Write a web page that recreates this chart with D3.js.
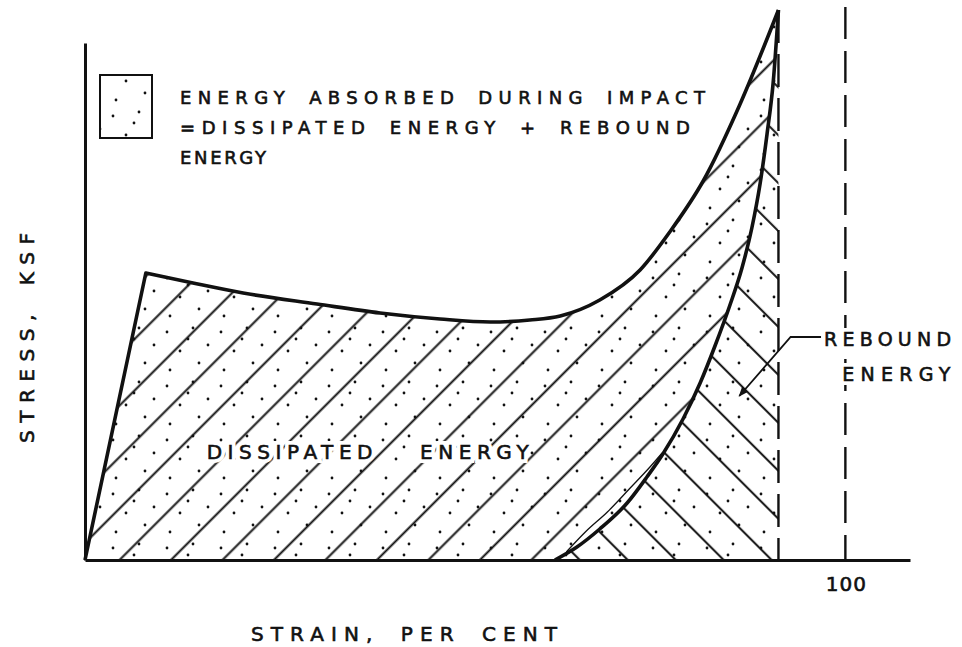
<!DOCTYPE html>
<html lang="en">
<head>
<meta charset="UTF-8" />
<title>Stress - strain energy</title>
<script src="https://d3js.org/d3.v7.min.js"></script>
<style>
  body { margin: 0; background: #fff; }
  text { font-family: "DejaVu Sans", sans-serif; fill: #111; }
  .ink { stroke: #111; stroke-width: 0.6; }
</style>
</head>
<body>
<div id="graph-space"></div>
<script>
  // loading branch (strain %, stress)
  const loadStrain = [0, 8.0, 14.2, 20.8, 30.5, 38.8, 46.7, 53.3, 58.5, 62.5, 67.7, 73.0, 76.9, 81.3, 86.1, 91.2]
  const loadStress = [0, 57.4, 55.4, 53.4, 51.2, 49.4, 48.2, 47.6, 48, 48.8, 52, 58, 65.6, 75.8, 91, 110]
  // unloading (rebound) branch
  const unloadStrain = [61.8, 64.7, 67.7, 71.3, 73.9, 76.0, 78.65, 80.9, 82.85, 84.8, 86.4, 87.7, 88.8, 89.7, 90.5, 91.2]
  const unloadStress = [0, 2.6, 6.2, 11.4, 16.6, 21.2, 28.2, 35.4, 42.8, 50.9, 58.4, 66.4, 75.4, 85.2, 95.4, 110]
  // faint second trace just above the unloading foot
  const traceStrain = [63.3, 65.8, 68.7, 71.7, 74.3, 75.9]
  const traceStress = [1.6, 5.6, 9.6, 14.4, 18.6, 21.4]
  const xTicks = [100]
  const legendLines = ["ENERGY ABSORBED DURING IMPACT", "=DISSIPATED ENERGY + REBOUND", "ENERGY"]

  const width = 962
  const height = 647
  const svg = d3.select("#graph-space").append("svg")
    .attr("width", width).attr("height", height)

  const x = d3.scaleLinear().domain([0, 108.5]).range([85, 910])
  const y = d3.scaleLinear().domain([0, 103.4]).range([560, 43])
  const ink = "#111"

  const peakStrain = loadStrain[loadStrain.length - 1]
  const peakStress = loadStress[loadStress.length - 1]

  const loadPts = loadStrain.map((d, i) => [d, loadStress[i]])
  const unloadPts = unloadStrain.map((d, i) => [d, unloadStress[i]])
  const tracePts = traceStrain.map((d, i) => [d, traceStress[i]])

  const curve = d3.line().x(d => x(d[0])).y(d => y(d[1])).curve(d3.curveMonotoneX)
  // straight rise to the yield corner, then smooth
  const loadPath = `M${x(loadPts[0][0])},${y(loadPts[0][1])}` + curve(loadPts.slice(1)).replace(/^M/, "L")
  const unloadPath = curve(unloadPts)
  const underLoad = loadPath + `L${x(peakStrain)},${y(0)}Z`
  const underUnload = unloadPath + `L${x(peakStrain)},${y(0)}Z`

  const defs = svg.append("defs")

  // stipple
  const dotPos = [[5, 8], [31, 4], [46, 21], [18, 27], [37, 39], [8, 46], [26, 15]]
  const dots = defs.append("pattern").attr("id", "dots")
    .attr("patternUnits", "userSpaceOnUse").attr("width", 54).attr("height", 54)
  dots.selectAll("circle").data(dotPos).join("circle")
    .attr("cx", d => d[0]).attr("cy", d => d[1]).attr("r", 1.4).attr("fill", ink)

  function hatch(id, angle, w, off) {
    const p = defs.append("pattern").attr("id", id)
      .attr("patternUnits", "userSpaceOnUse").attr("width", w).attr("height", 10)
      .attr("patternTransform", `rotate(${angle})`)
    p.append("line").attr("x1", off).attr("x2", off).attr("y1", -1).attr("y2", 11)
      .attr("stroke", ink).attr("stroke-width", 2)
  }
  hatch("fwd", 45, 36.4, 7.3)
  hatch("back", -45, 33.9, 14.1)

  defs.append("clipPath").attr("id", "clip-diss")
    .append("path").attr("d", underLoad + underUnload).attr("clip-rule", "evenodd")
  defs.append("clipPath").attr("id", "clip-reb")
    .append("path").attr("d", underUnload)

  defs.append("marker").attr("id", "arrow")
    .attr("viewBox", "0 0 10 8").attr("refX", 9).attr("refY", 4)
    .attr("markerWidth", 11).attr("markerHeight", 8).attr("markerUnits", "userSpaceOnUse")
    .attr("orient", "auto")
    .append("path").attr("d", "M0,0L10,4L0,8Z").attr("fill", ink)

  // fills
  svg.append("path").attr("d", underLoad).attr("fill", "url(#dots)")
  svg.append("rect").attr("x", 0).attr("y", 0).attr("width", width).attr("height", height)
    .attr("fill", "url(#fwd)").attr("clip-path", "url(#clip-diss)")
  svg.append("rect").attr("x", 0).attr("y", 0).attr("width", width).attr("height", height)
    .attr("fill", "url(#back)").attr("clip-path", "url(#clip-reb)")

  // text with a white halo under it so the hatching breaks around it
  function haloText(g, attrs, str) {
    [true, false].forEach(halo => {
      const t = g.append("text").text(str)
      Object.entries(attrs).forEach(([k, v]) => t.attr(k, v))
      if (halo) t.attr("stroke", "#fff").attr("stroke-width", 8).attr("fill", "#fff")
      else t.attr("class", "ink")
    })
  }

  haloText(svg, { x: x(16), y: y(20.2), "font-size": 20, "word-spacing": 30,
    textLength: 322, lengthAdjust: "spacing" }, "DISSIPATED ENERGY")

  // curves
  svg.append("path").attr("d", loadPath).attr("fill", "none")
    .attr("stroke", ink).attr("stroke-width", 3.6).attr("stroke-linejoin", "round")
  svg.append("path").attr("d", unloadPath).attr("fill", "none")
    .attr("stroke", ink).attr("stroke-width", 3.6)
  svg.append("path").attr("d", curve(tracePts))
    .attr("fill", "none").attr("stroke", ink).attr("stroke-width", 1.3)

  // dashed verticals
  svg.append("line")
    .attr("x1", x(peakStrain)).attr("x2", x(peakStrain))
    .attr("y1", y(peakStress)).attr("y2", y(0))
    .attr("stroke", ink).attr("stroke-width", 2.4).attr("stroke-dasharray", "33,11")
  svg.append("line")
    .attr("x1", x(100)).attr("x2", x(100))
    .attr("y1", y(110.6)).attr("y2", y(0))
    .attr("stroke", ink).attr("stroke-width", 2.4).attr("stroke-dasharray", "32,12")

  // axes
  const xAxis = svg.append("g").attr("transform", `translate(0,${y(0)})`)
    .call(d3.axisBottom(x).tickValues(xTicks).tickSize(0).tickSizeOuter(0).tickPadding(17).tickFormat(d3.format("d")))
  xAxis.select(".domain").attr("stroke", ink).attr("stroke-width", 3)
  xAxis.selectAll("text").attr("font-size", 20).attr("fill", ink).attr("class", "ink")
    .attr("textLength", 40).attr("lengthAdjust", "spacing")
    .style("font-family", "'DejaVu Sans', sans-serif")

  const yAxis = svg.append("g").attr("transform", `translate(${x(0)},0)`)
    .call(d3.axisLeft(y).tickValues([]).tickSizeOuter(0))
  yAxis.select(".domain").attr("stroke", ink).attr("stroke-width", 3)

  // rebound label and leader
  haloText(svg, { x: x(97.2), y: y(42.8), "font-size": 19, textLength: 127, lengthAdjust: "spacing" }, "REBOUND")
  haloText(svg, { x: x(99.6), y: y(35.8), "font-size": 19, textLength: 108, lengthAdjust: "spacing" }, "ENERGY")
  const leader = [[96.8, 44.6], [92.8, 44.6], [86.05, 32.8]]
  svg.append("path").attr("d", d3.line().x(d => x(d[0])).y(d => y(d[1]))(leader))
    .attr("fill", "none").attr("stroke", ink).attr("stroke-width", 1.8)
    .attr("marker-end", "url(#arrow)")

  // legend
  svg.append("rect").attr("x", 100).attr("y", 75).attr("width", 52).attr("height", 63)
    .attr("fill", "url(#dots)").attr("stroke", ink).attr("stroke-width", 2)
  const legendWidths = [525, 510, 86]
  svg.selectAll(".legend-line").data(legendLines).join("text")
    .attr("class", "legend-line ink")
    .attr("x", 180).attr("y", (d, i) => 104 + i * 30)
    .attr("font-size", 18).attr("word-spacing", 6)
    .attr("textLength", (d, i) => legendWidths[i]).attr("lengthAdjust", "spacing")
    .text(d => d)

  // axis titles
  svg.append("text").attr("class", "ink").attr("transform", "translate(34,338) rotate(-90)")
    .attr("text-anchor", "middle").attr("font-size", 20).attr("word-spacing", 8)
    .attr("textLength", 210).attr("lengthAdjust", "spacing")
    .text("STRESS, KSF")
  svg.append("text").attr("class", "ink").attr("x", 404).attr("y", 641)
    .attr("text-anchor", "middle").attr("font-size", 20).attr("word-spacing", 8)
    .attr("textLength", 306).attr("lengthAdjust", "spacing")
    .text("STRAIN, PER CENT")
</script>
</body>
</html>
